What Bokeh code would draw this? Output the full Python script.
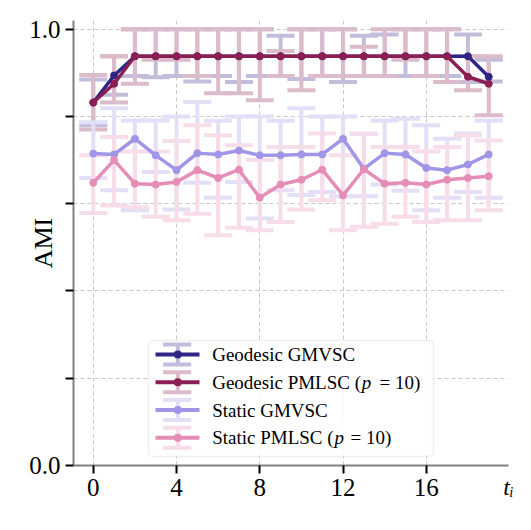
import numpy as np
from bokeh.plotting import figure
from bokeh.models import Range1d, FixedTicker, Label, BoxAnnotation, Title
from bokeh.embed import file_html
from bokeh.resources import INLINE

# ---------------- data ----------------
t = list(range(20))

geo_gmvsc_mean = [0.832, 0.894, 0.938, 0.938, 0.938, 0.938, 0.938, 0.938, 0.938, 0.938,
                  0.938, 0.938, 0.938, 0.938, 0.938, 0.938, 0.938, 0.938, 0.938, 0.891]
geo_gmvsc_lo = [0.780, 0.850, 0.893, 0.890, 0.893, 0.880, 0.893, 0.879, 0.893, 0.893,
                0.886, 0.893, 0.879, 0.893, 0.893, 0.893, 0.893, 0.893, 0.879, 0.880]
geo_gmvsc_hi = [0.885, 0.938, 1.000, 1.000, 1.000, 1.000, 1.000, 1.000, 1.000, 0.985,
                1.000, 1.000, 1.000, 0.985, 0.988, 1.000, 1.000, 1.000, 0.988, 0.930]

geo_pmlsc_mean = [0.832, 0.875, 0.938, 0.938, 0.938, 0.938, 0.938, 0.938, 0.938, 0.938,
                  0.938, 0.938, 0.938, 0.938, 0.938, 0.938, 0.938, 0.938, 0.891, 0.875]
geo_pmlsc_lo = [0.770, 0.832, 0.875, 0.930, 0.930, 0.893, 0.853, 0.853, 0.837, 0.893,
                0.860, 0.893, 0.893, 0.893, 0.893, 0.930, 0.893, 0.879, 0.860, 0.803]
geo_pmlsc_hi = [0.895, 0.938, 1.000, 1.000, 1.000, 1.000, 1.000, 1.000, 1.000, 0.950,
                1.000, 1.000, 1.000, 0.960, 1.000, 1.000, 1.000, 1.000, 0.938, 0.938]

sta_gmvsc_mean = [0.715, 0.713, 0.749, 0.711, 0.677, 0.716, 0.713, 0.722, 0.711, 0.711,
                  0.713, 0.713, 0.749, 0.680, 0.716, 0.713, 0.682, 0.677, 0.690, 0.713]
sta_gmvsc_lo = [0.659, 0.631, 0.585, 0.673, 0.587, 0.648, 0.614, 0.650, 0.566, 0.631,
                0.620, 0.627, 0.617, 0.617, 0.644, 0.630, 0.585, 0.614, 0.627, 0.614]
sta_gmvsc_hi = [0.787, 0.819, 0.791, 0.791, 0.800, 0.833, 0.790, 0.800, 0.800, 0.790,
                0.819, 0.800, 0.800, 0.760, 0.791, 0.795, 0.780, 0.749, 0.761, 0.791]

sta_pmlsc_mean = [0.648, 0.700, 0.646, 0.644, 0.650, 0.677, 0.659, 0.678, 0.614, 0.644,
                  0.655, 0.678, 0.619, 0.679, 0.646, 0.648, 0.644, 0.655, 0.659, 0.663]
sta_pmlsc_lo = [0.579, 0.596, 0.592, 0.570, 0.562, 0.577, 0.528, 0.545, 0.539, 0.558,
                0.587, 0.608, 0.539, 0.547, 0.554, 0.570, 0.558, 0.562, 0.562, 0.585]
sta_pmlsc_hi = [0.711, 0.753, 0.720, 0.720, 0.744, 0.780, 0.757, 0.734, 0.700, 0.730,
                0.730, 0.761, 0.711, 0.761, 0.730, 0.730, 0.720, 0.730, 0.757, 0.745]

series_names = ["Geodesic GMVSC", "Geodesic PMLSC", "Static GMVSC", "Static PMLSC"]
x_ticks = [0, 4, 8, 12, 16]
y_ticks = [0.0, 0.2, 0.4, 0.6, 0.8, 1.0]
y_tick_labels = {0.0: "0.0", 0.2: "", 0.4: "", 0.6: "", 0.8: "", 1.0: "1.0"}
x_label = "t\u1d62"
y_label = "AMI"

# ---------------- style ----------------
line_colors = ["#2E2585", "#8B1E52", "#A095E6", "#E58DB6"]
err_colors = ["#C1BDDB", "#DCBBCA", "#E2DFF7", "#F7DDE9"]
FONT = "Liberation Serif"

p = figure(frame_width=435, frame_height=445,
           min_border_left=73, min_border_right=15, min_border_top=20, min_border_bottom=57,
           x_range=Range1d(-0.95, 19.95), y_range=Range1d(0, 1.02),
           output_backend="svg", toolbar_location=None)
p.outline_line_color = None
p.background_fill_color = "white"
p.border_fill_color = "white"

for ax in (p.xaxis[0], p.yaxis[0]):
    ax.axis_line_color = "#808080"
    ax.axis_line_width = 2
    ax.major_tick_line_color = "black"
    ax.major_tick_line_width = 2
    ax.major_tick_out = 8
    ax.major_tick_in = 0
    ax.minor_tick_out = 0
    ax.minor_tick_in = 0
    ax.major_label_text_font = FONT
    ax.major_label_text_font_size = "25px"
    ax.major_label_text_color = "black"
    ax.major_label_standoff = 5
    ax.axis_label_text_font = FONT
    ax.axis_label_text_color = "black"

p.xaxis.ticker = FixedTicker(ticks=x_ticks)
p.yaxis.ticker = FixedTicker(ticks=y_ticks)
p.yaxis.major_label_overrides = y_tick_labels
p.xgrid.ticker = FixedTicker(ticks=x_ticks)
p.ygrid.ticker = FixedTicker(ticks=y_ticks)
p.grid.grid_line_color = "#c8c8c8"
p.grid.grid_line_dash = "4 3"
p.grid.grid_line_width = 1

# y-axis label
p.yaxis.axis_label = y_label
p.yaxis.axis_label_text_font_style = "normal"
p.yaxis.axis_label_text_font_size = "26px"
p.yaxis.axis_label_standoff = -32

# x-axis label at the right end
xlab_ok = False
for al in ("end", "right"):
    try:
        p.xaxis.axis_label_align = al
        xlab_ok = True
        break
    except Exception:
        pass
if xlab_ok:
    p.xaxis.axis_label = x_label
    p.xaxis.axis_label_text_font_style = "italic"
    p.xaxis.axis_label_text_font_size = "24px"
    p.xaxis.axis_label_standoff = -25
else:
    p.add_layout(Title(text=x_label, align="right", text_font=FONT, text_font_size="24px",
                       text_font_style="italic", standoff=-40), "below")

all_series = [
    (geo_gmvsc_mean, geo_gmvsc_lo, geo_gmvsc_hi),
    (geo_pmlsc_mean, geo_pmlsc_lo, geo_pmlsc_hi),
    (sta_gmvsc_mean, sta_gmvsc_lo, sta_gmvsc_hi),
    (sta_pmlsc_mean, sta_pmlsc_lo, sta_pmlsc_hi),
]

# error bars first (below all lines)
for (m, lo, hi), ec in zip(all_series, err_colors):
    p.segment(x0=t, y0=lo, x1=t, y1=hi, line_color=ec, line_width=4)
    p.scatter(x=t, y=lo, marker="dash", size=28, line_color=ec, line_width=4)
    p.scatter(x=t, y=hi, marker="dash", size=28, line_color=ec, line_width=4)

for (m, lo, hi), c in zip(all_series, line_colors):
    p.line(x=t, y=m, line_color=c, line_width=3.5)
    p.scatter(x=t, y=m, size=7, fill_color=c, line_color=c)

# ---------------- manual legend (screen units, relative to frame) ----------------
def sbox(left, right, bottom, top, **kw):
    b = BoxAnnotation(left=left, right=right, bottom=bottom, top=top,
                      left_units="screen", right_units="screen",
                      top_units="screen", bottom_units="screen", **kw)
    p.add_layout(b)
    return b

sbox(75, 360, 9, 125, fill_color="white", fill_alpha=0.85,
     line_color="#cccccc", line_width=1.5, border_radius=4)

row_y = [111, 83.3, 55.5, 27.7]
for ry, c, ec in zip(row_y, line_colors, err_colors):
    sbox(102.3, 106.3, ry - 10, ry + 10, fill_color=ec, fill_alpha=1, line_alpha=0)
    sbox(89.7, 117.7, ry + 8, ry + 12, fill_color=ec, fill_alpha=1, line_alpha=0)
    sbox(89.7, 117.7, ry - 12, ry - 8, fill_color=ec, fill_alpha=1, line_alpha=0)
    sbox(82, 126, ry - 2, ry + 2, fill_color=c, fill_alpha=1, line_alpha=0)
    sbox(100.3, 108.3, ry - 4, ry + 4, fill_color=c, fill_alpha=1, line_alpha=0,
         border_radius=4)

def slabel(x, y, text, size="19px", style="normal", align="left", baseline="middle", angle=0):
    lab = Label(x=x, y=y, x_units="screen", y_units="screen", text=text,
                text_font=FONT, text_font_size=size, text_font_style=style,
                text_align=align, text_baseline=baseline, angle=angle, text_color="black")
    p.add_layout(lab)

slabel(138.7, row_y[0], series_names[0])
slabel(138.7, row_y[1], series_names[1] + " (")
slabel(288.3, row_y[1], "p", style="italic")
slabel(306.0, row_y[1], "= 10)")
slabel(138.7, row_y[2], series_names[2])
slabel(138.7, row_y[3], series_names[3] + " (")
slabel(261.0, row_y[3], "p", style="italic")
slabel(277.0, row_y[3], "= 10)")

open("out.html", "w").write(file_html(p, INLINE))
